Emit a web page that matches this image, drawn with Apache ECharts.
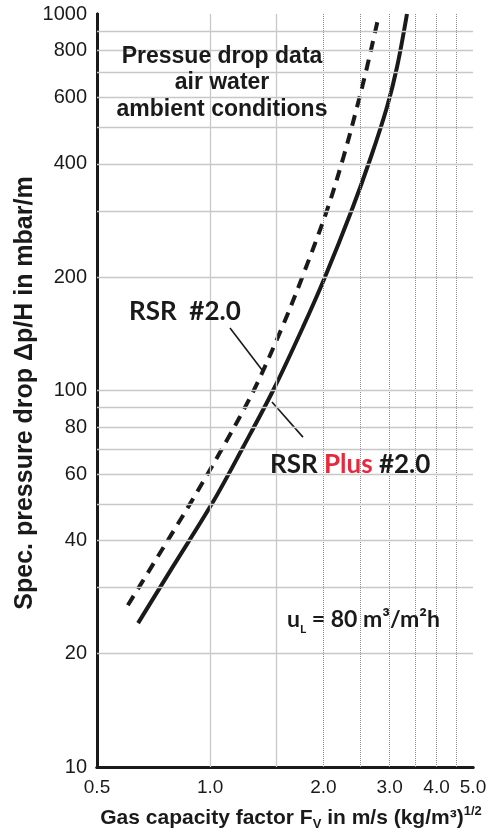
<!DOCTYPE html>
<html><head><meta charset="utf-8">
<script src="https://cdn.jsdelivr.net/npm/echarts@6/dist/echarts.min.js"></script>
<style>html,body{margin:0;padding:0;background:#fff}#c{width:496px;height:833px}</style>
</head><body><div id="c"></div>
<script>
// Tick labels
const xTickLabels = [0.5, 1.0, 2.0, 3.0, 4.0, 5.0];
const yTickLabels = [10, 20, 40, 60, 80, 100, 200, 400, 600, 800, 1000];
// Grid lines
const xGridSolid = [1.0, 1.5];
const xGridDotted = [2.0, 2.5, 3.0, 3.5, 4.0, 4.5];
const yGrid = [20, 30, 40, 50, 60, 70, 80, 90, 100, 200, 300, 400, 500, 600, 700, 800, 900];
// RSR Plus #2.0 (solid)
const rsrPlusFv = [0.643, 0.795, 1.014, 1.224, 1.472, 1.766, 2.020, 2.380, 2.676, 2.953, 3.140, 3.337];
const rsrPlusDp = [24.1, 34.0, 50.3, 70.8, 100.3, 147.5, 200.2, 301.6, 417.1, 566.2, 723, 1000];
// RSR #2.0 (dashed)
const rsrFv = [0.604, 0.698, 0.887, 1.082, 1.307, 1.555, 1.758, 2.046, 2.262, 2.458, 2.613, 2.795];
const rsrDp = [26.9, 34.0, 50.3, 70.8, 100.3, 147.5, 200.2, 301.6, 417.1, 566.2, 723, 970];
// Leader lines for labels [Fv, dp]
const leaderRsr = [[1.129, 146.5], [1.374, 113.4]];
const leaderPlus = [[1.46, 93.2], [1.765, 75.2]];

const zip = (a, b) => a.map((v, i) => [v, b[i]]);
const ink = '#1a1a1a';

const chart = echarts.init(document.getElementById('c'), null, {renderer: 'canvas'});
const gridLineSolid = {color: '#c8c8c8', width: 1.3, type: 'solid'};
const gridLineDot = {color: '#8a8a8a', width: 1, type: 'dotted'};

chart.setOption({
  backgroundColor: '#ffffff',
  animation: false,
  grid: {left: 97, right: 23, top: 14, bottom: 66, show: false},
  xAxis: [{
    type: 'log', logBase: 10, min: 0.5, max: 5,
    axisLine: {show: true, onZero: false, lineStyle: {color: ink, width: 3}},
    axisTick: {show: false},
    splitLine: {show: false},
    minorTick: {show: false},
    axisLabel: {
      customValues: xTickLabels,
      formatter: v => Number(v).toFixed(1),
      fontSize: 19, fontFamily: 'Liberation Sans', color: ink, margin: 11
    }
  }, {
    type: 'value', position: 'top', min: 0, max: 1,
    axisLine: {show: true, lineStyle: {color: ink, width: 3}},
    axisTick: {show: false}, axisLabel: {show: false}, splitLine: {show: false}
  }],
  yAxis: [{
    type: 'log', logBase: 10, min: 10, max: 1000,
    axisLine: {show: true, onZero: false, lineStyle: {color: ink, width: 3}},
    axisTick: {show: false},
    splitLine: {show: false},
    minorTick: {show: false},
    axisLabel: {
      customValues: yTickLabels,
      formatter: v => String(Math.round(v)),
      fontSize: 20, fontFamily: 'Liberation Sans', color: ink, margin: 10
    }
  }, {
    type: 'value', position: 'right', min: 0, max: 1,
    axisLine: {show: true, lineStyle: {color: ink, width: 3}},
    axisTick: {show: false}, axisLabel: {show: false}, splitLine: {show: false}
  }],
  series: [
    {
      name: 'grid', type: 'line', data: [], z: 1, silent: true,
      markLine: {
        silent: true, symbol: 'none', label: {show: false}, animation: false,
        data: [
          ...xGridSolid.map(v => ({xAxis: v, lineStyle: gridLineSolid})),
          ...xGridDotted.map(v => ({xAxis: v, lineStyle: gridLineDot})),
          ...yGrid.map(v => ({yAxis: v, lineStyle: gridLineSolid}))
        ]
      }
    },
    {
      name: 'RSR #2.0', type: 'line', z: 3, smooth: 0.35, symbol: 'none',
      data: zip(rsrFv, rsrDp),
      lineStyle: {color: ink, width: 4, type: [11, 8], cap: 'butt'}
    },
    {
      name: 'RSR Plus #2.0', type: 'line', z: 3, smooth: 0.35, symbol: 'none',
      data: zip(rsrPlusFv, rsrPlusDp),
      lineStyle: {color: ink, width: 4}
    },
    {
      name: 'leader RSR', type: 'line', z: 4, symbol: 'none', silent: true,
      data: leaderRsr, lineStyle: {color: ink, width: 1.6}
    },
    {
      name: 'leader Plus', type: 'line', z: 4, symbol: 'none', silent: true,
      data: leaderPlus, lineStyle: {color: ink, width: 1.6}
    }
  ],
  graphic: [
    {
      type: 'text', x: 222, y: 83, z: 10,
      style: {
        text: 'Pressue drop data\nair water\nambient conditions',
        font: 'bold 23px "Liberation Sans"', fill: ink,
        align: 'center', verticalAlign: 'middle', lineHeight: 26.5
      }
    },
    {
      type: 'text', x: 129, y: 312, z: 10,
      style: {text: 'RSR  #2.0', font: 'bold 26px Lato', fill: ink, align: 'left', verticalAlign: 'middle'}
    },
    {
      type: 'text', x: 270, y: 465, z: 10,
      style: {
        text: '{a|RSR }{b|Plus}{a| #2.0}', align: 'left', verticalAlign: 'middle',
        rich: {
          a: {font: 'bold 26px Lato', fill: ink},
          b: {font: 'bold 26px Lato', fill: '#e8283c'}
        }
      }
    },
    {
      type: 'text', x: 287, y: 620, z: 10,
      style: {
        text: '{a|u}{s|L}{a| = 80 m³/m²h}', align: 'left', verticalAlign: 'middle',
        rich: {
          a: {font: 'bold 23px Lato', fill: ink, lineHeight: 30, verticalAlign: 'middle'},
          s: {font: 'bold 12px Lato', fill: ink, lineHeight: 12, verticalAlign: 'bottom'}
        }
      }
    },
    {
      type: 'text', x: 291, y: 818, z: 10,
      style: {
        text: '{a|Gas capacity factor F}{s|V}{a| in m/s (kg/m³)}{p|1/2}', align: 'center', verticalAlign: 'middle',
        rich: {
          a: {font: 'bold 21px "Liberation Sans"', fill: ink, lineHeight: 26, verticalAlign: 'middle'},
          s: {font: 'bold 13px "Liberation Sans"', fill: ink, lineHeight: 13, verticalAlign: 'bottom'},
          p: {font: 'bold 13px "Liberation Sans"', fill: ink, lineHeight: 13, verticalAlign: 'top'}
        }
      }
    },
    {
      type: 'text', x: 25, y: 393, rotation: Math.PI / 2, z: 10,
      style: {
        text: 'Spec. pressure drop Δp/H in mbar/m',
        font: 'bold 25px "Liberation Sans"', fill: ink,
        align: 'center', verticalAlign: 'middle'
      }
    }
  ]
});
</script>
</body></html>
